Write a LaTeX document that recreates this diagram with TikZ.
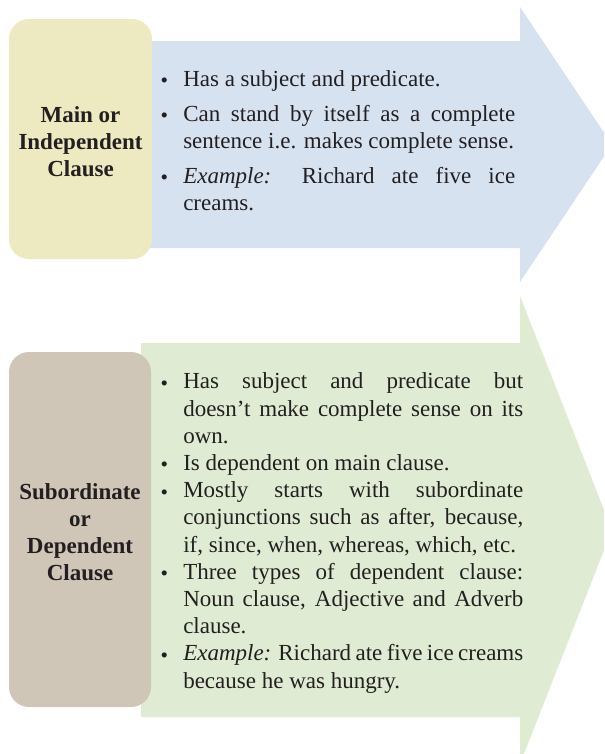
\documentclass[tikz,border=0pt]{standalone}
\usepackage{fontspec}
\setmainfont{Liberation Serif}
\usetikzlibrary{positioning}

\definecolor{mainfill}{HTML}{EDE9C1}
\definecolor{mainarrow}{HTML}{D7E2F1}
\definecolor{subfill}{HTML}{CFC6B8}
\definecolor{subarrow}{HTML}{DFECD3}
\definecolor{ink}{HTML}{231F20}

% bullet point with hanging indent
\newcommand{\bul}{\par\noindent\hangindent=14.25pt\hangafter=0%
  \llap{\makebox[0pt]{\raisebox{-1pt}{\fontsize{16pt}{16pt}\selectfont\textbullet}}\hspace{14.25pt}}}

\tikzset{
  labelbox/.style={rounded corners=15pt, inner sep=0pt},
  labeltext/.style={text=ink, inner sep=0pt, align=center,
    font=\fontsize{17.25pt}{20.25pt}\selectfont\bfseries},
  pointlist/.style={text=ink, inner sep=0pt, align=justify, anchor=north west,
    font=\fontsize{17.25pt}{20.25pt}\selectfont}
}

\begin{document}
\begin{tikzpicture}[x=0.75pt,y=-0.75pt]
    \useasboundingbox (0,0) rectangle (604,754);
    \clip (0,0) rectangle (604,754);

    % Arrows (drawn first, boxes sit on top)
    \fill[mainarrow] (140,41) -- (520,41) -- (520,7) -- (612,144.5)
        -- (520,282) -- (520,248) -- (140,248) -- cycle;
    \fill[subarrow] (141,343) -- (520,343) -- (520,296) -- (612,530)
        -- (520,764) -- (520,717) -- (141,717) -- cycle;

    % Clause boxes
    \node[labelbox, fill=mainfill, minimum width=107.25pt, minimum height=180pt]
        (mainlbl) at (80.5,139) {};
    \node[labelbox, fill=subfill, minimum width=106.5pt, minimum height=266.25pt]
        (sublbl) at (80,529.5) {};
    \node[labeltext] (maintxt) at ([yshift=-2.25pt]mainlbl.center) {Main or\\Independent\\Clause};
    \node[labeltext] (subtxt) at ([yshift=-1.9pt]sublbl.center) {Subordinate\\or\\Dependent\\Clause};

    % Points
    \node[pointlist, text width=263.25pt] (mainpts) at (164,59) {%
        \parskip=0pt\tolerance=10000\hyphenpenalty=10000
        \bul Has a subject and predicate.
        \par\vspace{6pt}
        \bul Can stand by itself as a complete\linebreak sentence i.e. makes complete sense.
        \par\vspace{6pt}
        \bul \textit{Example:} Richard ate five ice\linebreak creams.\par};
    \node[pointlist, text width=269.25pt, font=\fontsize{17.25pt}{20.4pt}\selectfont]
        (subpts) at (164,361.5) {%
        \parskip=0pt\tolerance=10000\hyphenpenalty=10000
        \bul Has subject and predicate but\linebreak doesn't make complete sense on its\linebreak own.
        \bul Is dependent on main clause.
        \bul Mostly starts with subordinate\linebreak conjunctions such as after, because,\linebreak if, since, when, whereas, which, etc.
        \bul Three types of dependent clause:\linebreak Noun clause, Adjective and Adverb\linebreak clause.
        \bul \textit{Example:} Richard ate five ice creams\linebreak because he was hungry.\par};
\end{tikzpicture}
\end{document}
